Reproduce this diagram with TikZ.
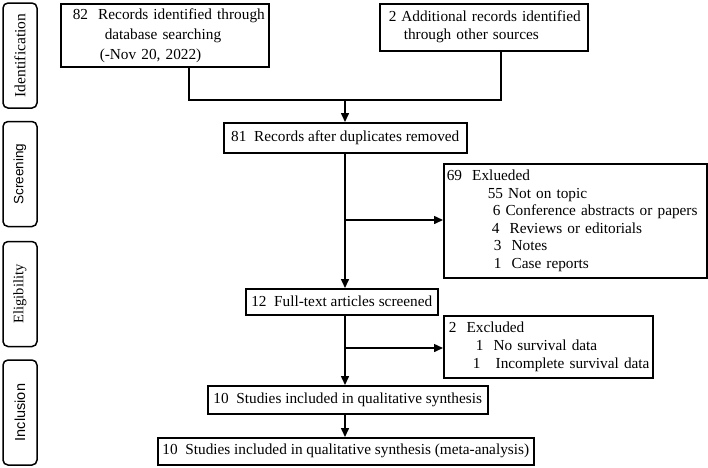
\documentclass[tikz,border=0pt]{standalone}
\usepackage{fontspec}
\setmainfont{Liberation Serif}
\newfontfamily\sansfam{Liberation Sans}
\usetikzlibrary{arrows.meta}

\begin{document}
\begin{tikzpicture}[x=1pt,y=-1pt]
\tikzstyle{phase}=[draw,rounded corners=5pt,line width=1.5pt,rotate=90,minimum width=105pt,minimum height=34pt,inner sep=0pt]
\tikzstyle{box}=[draw,line width=1.5pt,inner sep=0pt,align=left,anchor=north west,font=\fontsize{15.3}{18}\selectfont]
\tikzstyle{one}=[draw,line width=1.5pt,inner sep=0pt,anchor=north west,font=\fontsize{15.3}{18}\selectfont]
\tikzstyle{line}=[line width=1.5pt]
\tikzstyle{arr}=[line width=1.5pt,-{Triangle[length=9pt,width=8pt]}]
\useasboundingbox (0,0) rectangle (708,467);

% phases
\node [phase,font=\fontsize{15.5}{18}\selectfont] (p1) at (20,55.5) {Identification};
\node [phase,font=\sansfam\fontsize{13.5}{16}\selectfont] (p2) at (20,174) {Screening};
\node [phase,font=\fontsize{14.5}{17}\selectfont] (p3) at (20,294) {Eligibility};
\node [phase,font=\sansfam\fontsize{14.5}{17}\selectfont] (p4) at (20,412.5) {Inclusion};

% records
\node [box,text width=208pt,minimum height=63pt,font=\fontsize{15.3}{20}\selectfont] (a) at (60,3)
{\mbox{\hspace*{12pt}82\ \ Records identified through}\\
\mbox{\hspace*{44pt}database searching}\\
\mbox{\hspace*{39pt}(-Nov 20, 2022)}};
\node [box,text width=208pt,minimum height=47pt] (b) at (379,3)
{\mbox{\hspace*{9pt}2\hspace{5pt}Additional records identified}\\
\mbox{\hspace*{24pt}through other sources}};
\node [one,minimum width=243pt,minimum height=30pt] (c) at (223,122) {81\ \ Records after duplicates removed};
\node [box,text width=263pt,minimum height=114pt,font=\fontsize{15.3}{17.5}\selectfont] (d) at (443,163)
{\mbox{\hspace*{3pt}69\ \ Exlueded}\\
\mbox{\hspace*{44pt}55 Not on topic}\\
\mbox{\hspace*{49pt}6 Conference abstracts or papers}\\
\mbox{\hspace*{48pt}4\ \ Reviews or editorials}\\
\mbox{\hspace*{50pt}3\ \ Notes}\\
\mbox{\hspace*{50pt}1\ \ Case reports}};
\node [one,minimum width=192pt,minimum height=26pt] (e) at (245,288) {12\ \ Full-text articles screened};
\node [box,text width=209pt,minimum height=62pt] (f) at (443,315)
{\mbox{\hspace*{5pt}2\ \ Excluded}\\
\mbox{\hspace*{32pt}1\ \ No survival data}\\
\mbox{\hspace*{29pt}1\ \ \ Incomplete survival data}};
\node [one,minimum width=280pt,minimum height=28pt] (g) at (207,385) {10\ \ Studies included in qualitative synthesis};
\node [one,minimum width=376pt,minimum height=27pt] (h) at (157,437) {10\ \ Studies included in qualitative synthesis (meta-analysis)};

% connectors
\coordinate (j) at (345,100);
\coordinate (s1) at (345,220);
\coordinate (s2) at (345,348);
\draw [line] ([xshift=24pt]a.south) |- (j);
\draw [line] ([xshift=17pt]b.south) |- (j);
\draw [arr] (j) -- (j |- c.north);
\draw [arr] (j |- c.south) -- (j |- e.north);
\draw [arr] (s1) -- (s1 -| d.west);
\draw [arr] (j |- e.south) -- (j |- g.north);
\draw [arr] (s2) -- (s2 -| f.west);
\draw [arr] (j |- g.south) -- (j |- h.north);
\end{tikzpicture}
\end{document}
